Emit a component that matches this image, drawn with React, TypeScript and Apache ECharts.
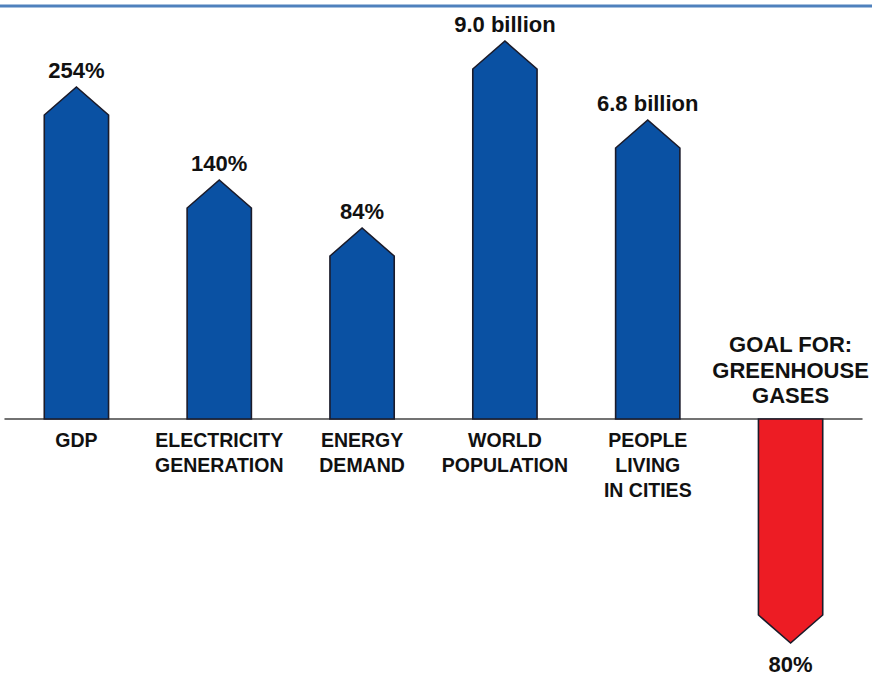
import React, { useEffect, useRef } from "react";
import * as echarts from "echarts";

// Categories (line breaks as in the picture)
const categories = [
  "GDP",
  "ELECTRICITY\nGENERATION",
  "ENERGY\nDEMAND",
  "WORLD\nPOPULATION",
  "PEOPLE\nLIVING\nIN CITIES",
  "GOAL FOR:\nGREENHOUSE\nGASES",
];
// Printed value labels
const valueLabels = ["254%", "140%", "84%", "9.0 billion", "6.8 billion", "80%"];
// Relative bar lengths (tip of the arrow); negative = downward
const barLengths = [332, 239, 191, 378, 299, -224];

const FONT = "'Liberation Sans', Arial, Helvetica, sans-serif";
const BLUE = "#0a51a3";
const RED = "#ed1c24";
const STROKE = "#1b1b2a";

export default function App() {
  const ref = useRef<HTMLDivElement>(null);
  useEffect(() => {
    if (!ref.current) return;
    const chart = echarts.init(ref.current, null, { renderer: "svg" });
    const data = barLengths.map((v, i) => [i, v]);
    chart.setOption({
      animation: false,
      backgroundColor: "#ffffff",
      grid: { left: 5, right: 10, top: 19, bottom: 20, containLabel: false },
      xAxis: {
        type: "category",
        data: categories,
        axisLine: { show: true, onZero: true, lineStyle: { color: "#444444", width: 1.5 } },
        axisTick: { show: false },
        axisLabel: { show: false },
        splitLine: { show: false },
      },
      yAxis: {
        type: "value",
        min: -236,
        max: 400,
        show: false,
        splitLine: { show: false },
      },
      graphic: [
        {
          type: "line",
          shape: { x1: 0, y1: 6, x2: 872, y2: 6 },
          style: { stroke: "#4f81bd", lineWidth: 3 },
          silent: true,
        },
      ],
      series: [
        {
          type: "custom",
          data,
          clip: false,
          renderItem: (params: any, api: any) => {
            const idx = api.value(0);
            const v = api.value(1);
            const base = api.coord([idx, 0]);
            const top = api.coord([idx, v]);
            const w = api.size([1, 0])[0] * 0.45;
            const half = w / 2;
            const up = v >= 0;
            const dir = up ? 1 : -1;
            const head = 28;
            const x = base[0];
            const shoulderY = top[1] + dir * head;
            const points = [
              [x - half, base[1]],
              [x - half, shoulderY],
              [x, top[1]],
              [x + half, shoulderY],
              [x + half, base[1]],
            ];
            const i = params.dataIndex;
            const children: any[] = [
              {
                type: "polygon",
                shape: { points },
                style: { fill: up ? BLUE : RED, stroke: STROKE, lineWidth: 1.6 },
              },
              {
                type: "text",
                x: x,
                y: up ? top[1] - 16.5 : top[1] + 21,
                style: {
                  text: valueLabels[i],
                  fill: "#111111",
                  font: `bold 22px ${FONT}`,
                  lineHeight: 18,
                  align: "center",
                  verticalAlign: "middle",
                },
              },
            ];
            if (up) {
              children.push({
                type: "text",
                x: x,
                y: base[1] + 8,
                style: {
                  text: categories[i],
                  fill: "#111111",
                  font: `bold 19.5px ${FONT}`,
                  lineHeight: 25,
                  align: "center",
                  verticalAlign: "top",
                },
              });
            } else {
              children.push({
                type: "text",
                x: x,
                y: base[1] - 10.5,
                style: {
                  text: categories[i],
                  fill: "#111111",
                  font: `bold 22px ${FONT}`,
                  lineHeight: 25.5,
                  align: "center",
                  verticalAlign: "bottom",
                },
              });
            }
            return { type: "group", children };
          },
        },
      ],
    });
    return () => chart.dispose();
  }, []);
  return (
    <div
      ref={ref}
      style={{ position: "absolute", left: 0, top: 0, width: 872, height: 675, background: "#fff" }}
    />
  );
}
